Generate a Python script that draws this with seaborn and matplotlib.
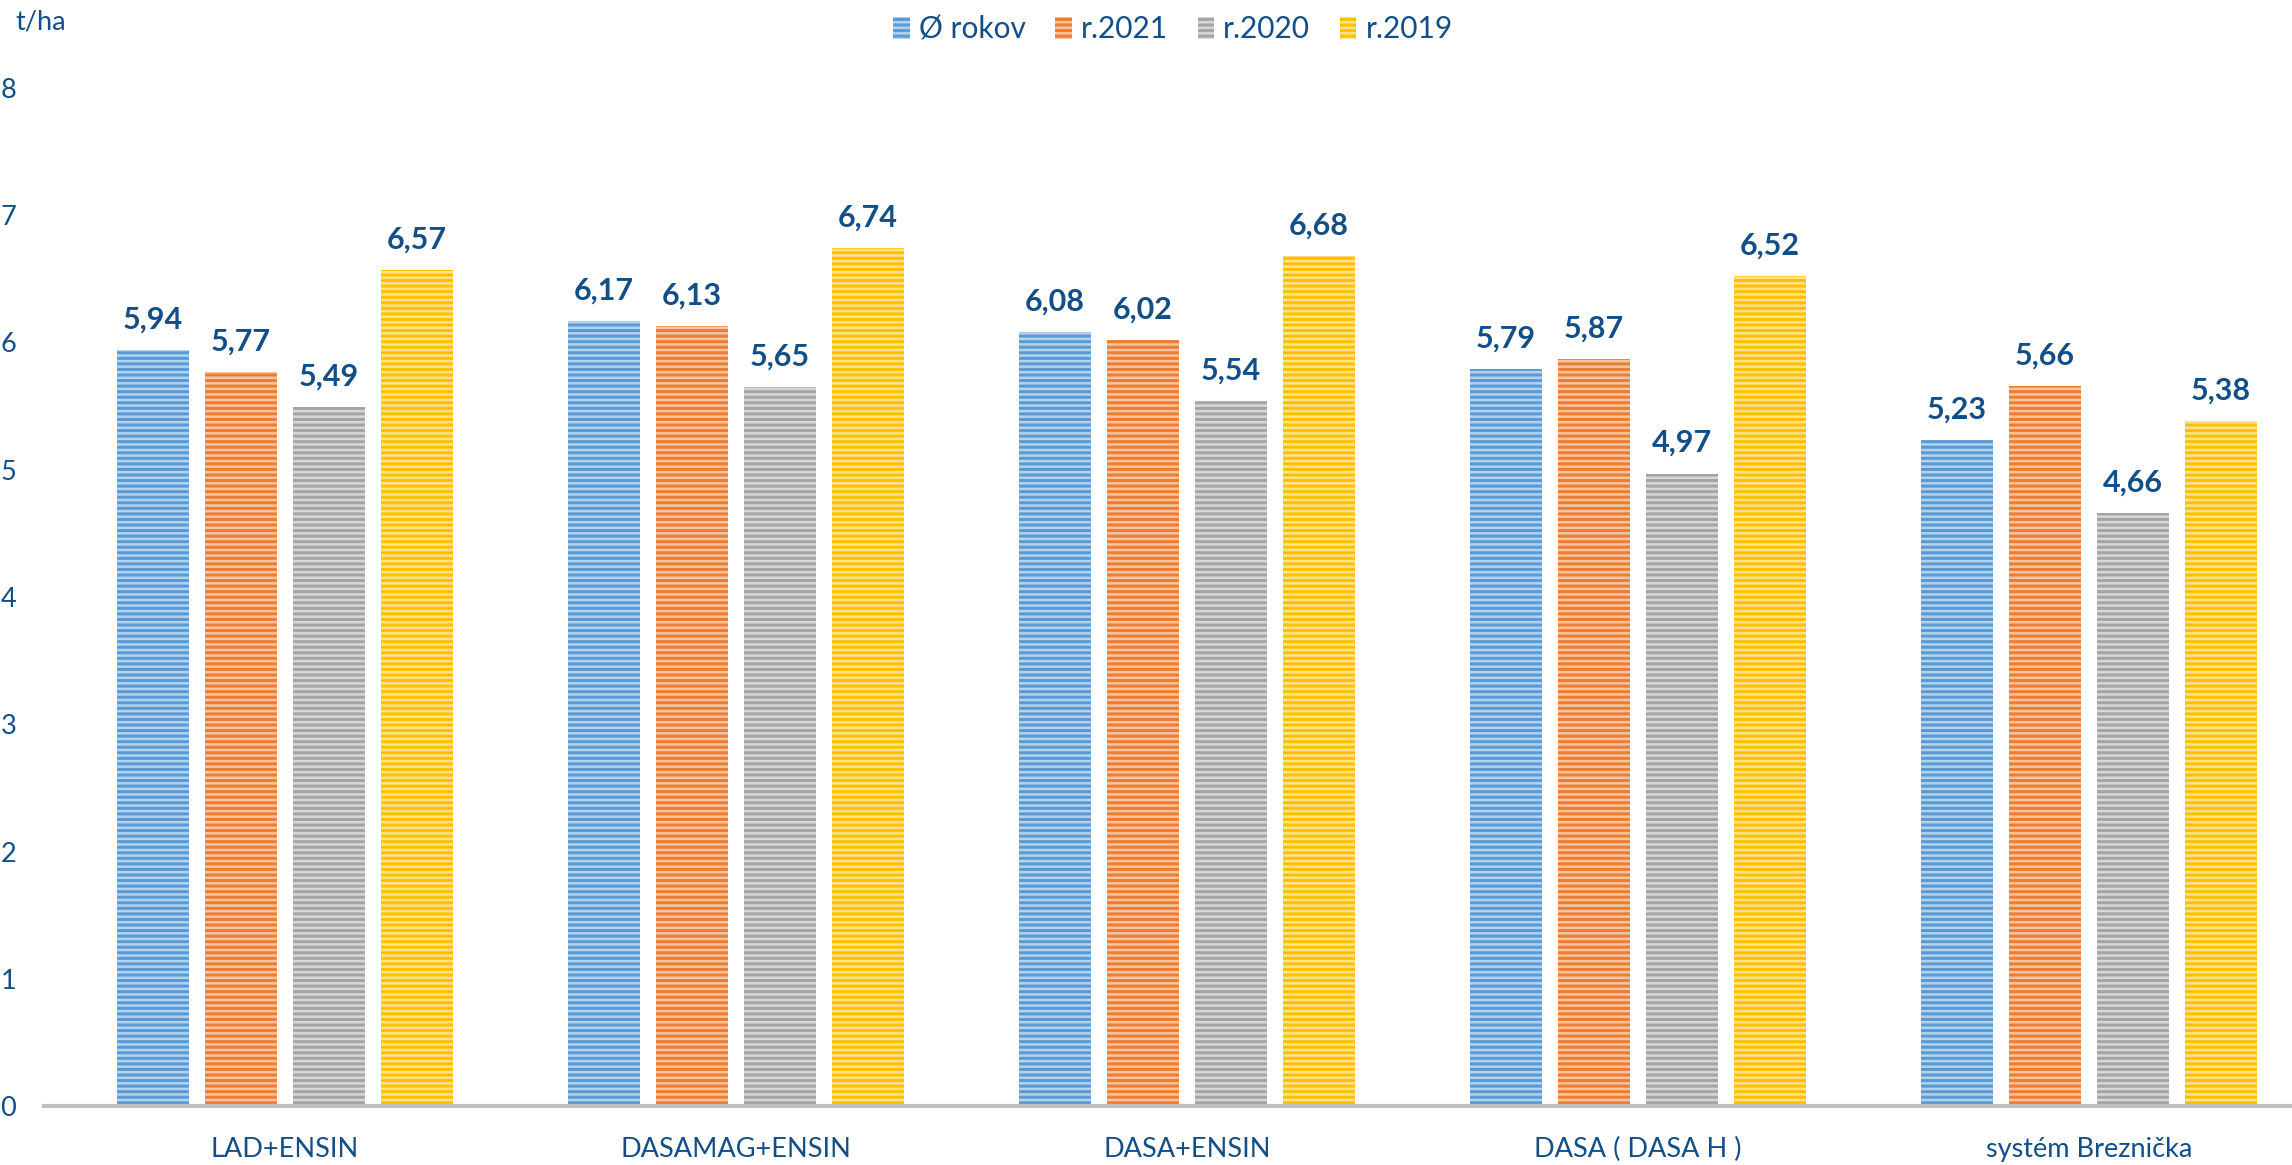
import pandas as pd
import matplotlib.pyplot as plt
import matplotlib.patches as mpatches
from matplotlib.colors import to_rgb
import seaborn as sns

categories = ["LAD+ENSIN", "DASAMAG+ENSIN", "DASA+ENSIN", "DASA ( DASA H )", "systém Breznička"]
series = ["Ø rokov", "r.2021", "r.2020", "r.2019"]
avg_years = [5.94, 6.17, 6.08, 5.79, 5.23]
y2021 = [5.77, 6.13, 6.02, 5.87, 5.66]
y2020 = [5.49, 5.65, 5.54, 4.97, 4.66]
y2019 = [6.57, 6.74, 6.68, 6.52, 5.38]
colors = ["#5B9BD5", "#ED7D31", "#A5A5A5", "#FFC000"]
TXT = "#124E87"

rows = []
for name, vals in zip(series, [avg_years, y2021, y2020, y2019]):
    for cat, v in zip(categories, vals):
        rows.append({"cat": cat, "series": name, "value": v})
df = pd.DataFrame(rows)

sns.set_style("white")
plt.rcParams["font.family"] = ["Lato", "DejaVu Sans"]
plt.rcParams["hatch.linewidth"] = 2.2


def light(c, f=0.55):
    r, g, b = to_rgb(c)
    return (r + (1 - r) * f, g + (1 - g) * f, b + (1 - b) * f)


fig = plt.figure(figsize=(22.92, 11.65), dpi=100)
ax = fig.add_axes([44 / 2292, 1 - 1106 / 1165, 1 - 44 / 2292, (1106 - 88) / 1165])

sns.barplot(data=df, x="cat", y="value", hue="series", hue_order=series,
            palette=colors, width=0.78, gap=0.18, ax=ax, legend=False)

for cont, col in zip(ax.containers, colors):
    for bar in cont:
        bar.set_facecolor(light(col))
        bar.set_edgecolor(col)
        bar.set_hatch("---")
        bar.set_linewidth(0)
    labels = [f"{v:.2f}".replace(".", ",") for v in cont.datavalues]
    ax.bar_label(cont, labels=labels, padding=12, color=TXT, fontsize=22,
                 fontweight="bold")

ax.set_ylim(0, 8)
ax.set_xlim(-0.534, 4.45)
ax.set_yticks(range(0, 9))
ax.set_xlabel("")
ax.set_ylabel("")
for s in ["top", "right", "left"]:
    ax.spines[s].set_visible(False)
ax.spines["bottom"].set_color("#BFBFBF")
ax.spines["bottom"].set_linewidth(3)
ax.tick_params(axis="both", length=0, labelsize=19.5, colors=TXT)
ax.tick_params(axis="x", pad=22)
ax.tick_params(axis="y", pad=20)

fig.text(15 / 2292, 1 - 22 / 1165, "t/ha", color=TXT, fontsize=19.5, va="center", ha="left")

handles = [mpatches.Patch(facecolor=light(c), edgecolor=c, hatch="---", linewidth=0, label=s)
           for s, c in zip(series, colors)]
fig.legend(handles=handles, loc="center", bbox_to_anchor=(1173 / 2292, 1 - 29 / 1165),
           ncol=4, frameon=False, fontsize=21.5, labelcolor=TXT, handlelength=0.55,
           handleheight=0.75, handletextpad=0.3, columnspacing=1.0)

fig.savefig("out.png", dpi=100)
